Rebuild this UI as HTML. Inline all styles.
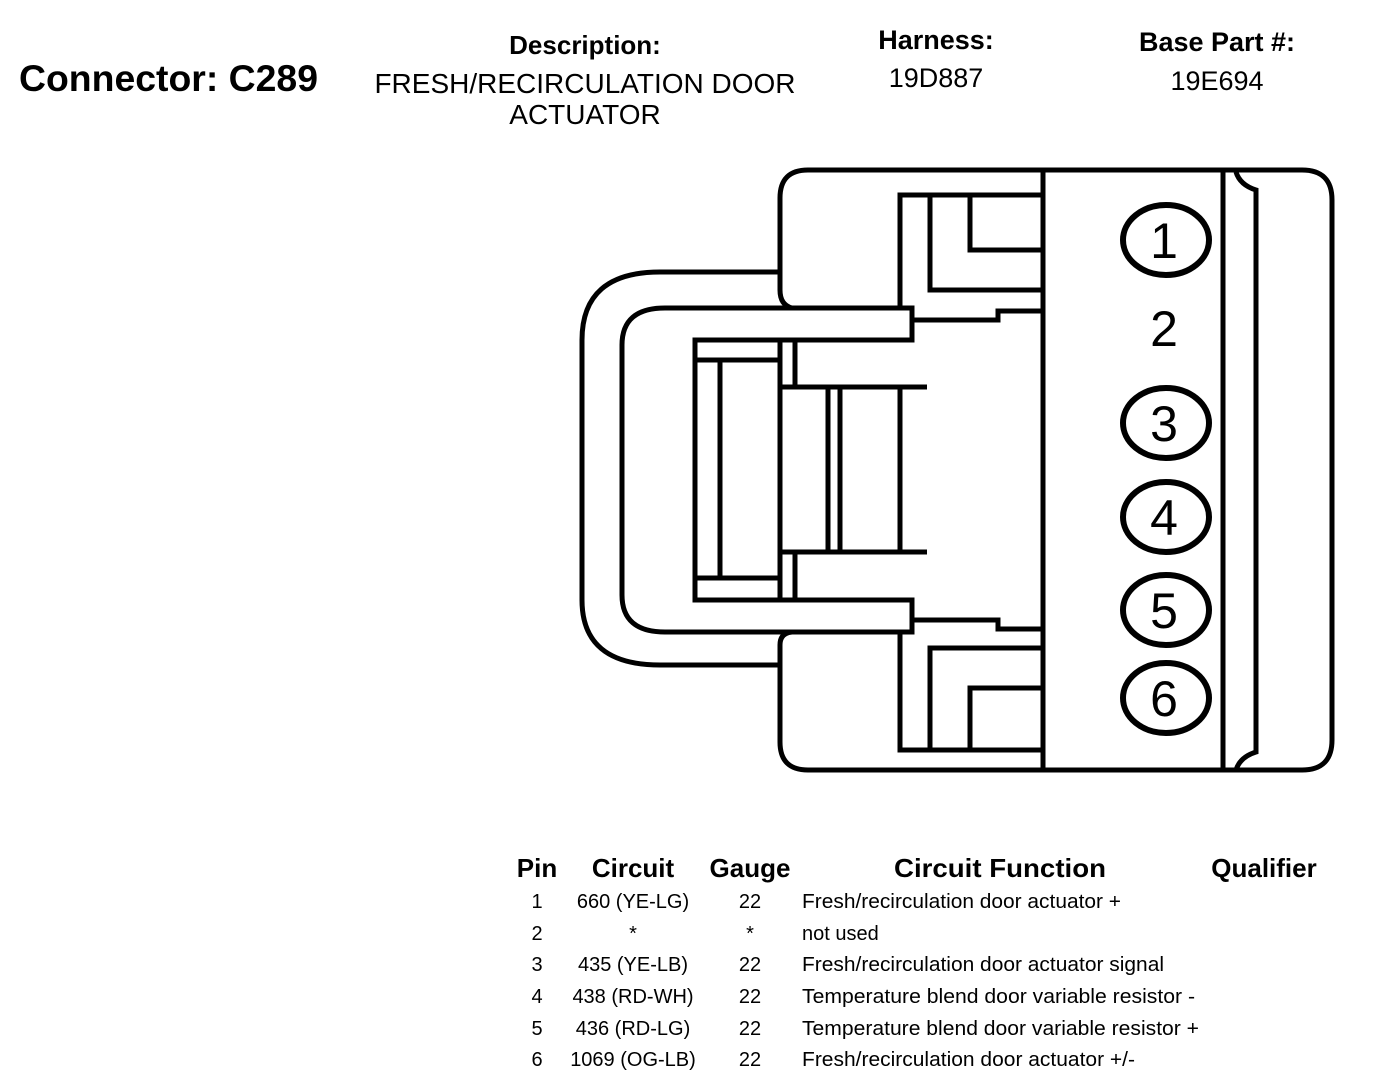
<!DOCTYPE html>
<html><head><meta charset="utf-8"><style>
html,body{margin:0;padding:0;background:#fff;}
svg{display:block;}
text{font-family:"Liberation Sans",Arial,sans-serif;fill:#000;}
</style></head><body>
<svg width="1376" height="1088" viewBox="0 0 1376 1088" xmlns="http://www.w3.org/2000/svg">
<g font-weight="bold">
<text x="19" y="91" font-size="37" textLength="299" lengthAdjust="spacingAndGlyphs">Connector: C289</text>
<text x="585" y="54" font-size="26" text-anchor="middle">Description:</text>
<text x="936" y="49" font-size="27" text-anchor="middle">Harness:</text>
<text x="1217" y="51" font-size="27" text-anchor="middle">Base Part #:</text>
</g>
<text x="585" y="93" font-size="28" text-anchor="middle">FRESH/RECIRCULATION DOOR</text>
<text x="585" y="124" font-size="28" text-anchor="middle">ACTUATOR</text>
<text x="936" y="87" font-size="27" text-anchor="middle">19D887</text>
<text x="1217" y="90" font-size="27" text-anchor="middle">19E694</text>

<g fill="none" stroke="#000" stroke-width="5">
<path d="M792 308 Q780 305 780 290 V198 Q780 170 808 170 H1302 Q1332 170 1332 200 V740 Q1332 770 1302 770 H808 Q780 770 780 742 V645 Q780 633 792 632"/>
<line x1="1043" y1="170" x2="1043" y2="770"/>
<line x1="1223" y1="170" x2="1223" y2="770"/>
<path d="M1236 172 Q1240 185 1256 190 V752 Q1240 757 1236 770"/>
<path d="M780 272 H660 Q582 272 582 340 V600 Q582 665 660 665 H780"/>
<path d="M912 308 H665 Q622 308 622 345 V595 Q622 632 665 632 H912 V600 H695 V340 H912 Z"/>
<line x1="695" y1="360" x2="780" y2="360"/>
<line x1="695" y1="578" x2="780" y2="578"/>
<line x1="720" y1="360" x2="720" y2="578"/>
<line x1="780" y1="340" x2="780" y2="600"/>
<line x1="795" y1="340" x2="795" y2="387"/>
<line x1="795" y1="552" x2="795" y2="600"/>
<line x1="780" y1="387" x2="927" y2="387"/>
<line x1="780" y1="552" x2="927" y2="552"/>
<line x1="828" y1="387" x2="828" y2="552"/>
<line x1="840" y1="387" x2="840" y2="552"/>
<line x1="900" y1="387" x2="900" y2="552"/>
<path d="M912 320 H998 V311 H1043"/>
<path d="M912 620 H998 V629 H1043"/>
<path d="M900 308 V195 H1043"/>
<path d="M930 195 V290 H1043"/>
<path d="M1043 250 H970 V195"/>
<path d="M900 632 V750 H1043"/>
<path d="M930 750 V648 H1043"/>
<path d="M1043 688 H970 V750"/>
</g>
<g fill="none" stroke="#000" stroke-width="6">
<ellipse cx="1166" cy="240" rx="43" ry="35"/>
<ellipse cx="1166" cy="423" rx="43" ry="35"/>
<ellipse cx="1166" cy="517" rx="43" ry="35"/>
<ellipse cx="1166" cy="610" rx="43" ry="35"/>
<ellipse cx="1166" cy="698" rx="43" ry="35"/>
</g>
<g font-size="50" text-anchor="middle">
<text x="1164" y="258">1</text>
<text x="1164" y="346">2</text>
<text x="1164" y="441">3</text>
<text x="1164" y="535">4</text>
<text x="1164" y="628">5</text>
<text x="1164" y="716">6</text>
</g>

<g font-weight="bold" font-size="26">
<text x="537" y="877" text-anchor="middle">Pin</text>
<text x="633" y="877" text-anchor="middle">Circuit</text>
<text x="750" y="877" text-anchor="middle">Gauge</text>
<text x="1000" y="877" text-anchor="middle" textLength="212" lengthAdjust="spacingAndGlyphs">Circuit Function</text>
<text x="1264" y="877" text-anchor="middle">Qualifier</text>
</g>
<g font-size="20">
<text x="537" y="908" text-anchor="middle">1</text><text x="633" y="908" text-anchor="middle">660 (YE-LG)</text><text x="750" y="908" text-anchor="middle">22</text><text x="802" y="908" textLength="319" lengthAdjust="spacingAndGlyphs">Fresh/recirculation door actuator +</text>
<text x="537" y="940" text-anchor="middle">2</text><text x="633" y="940" text-anchor="middle">*</text><text x="750" y="940" text-anchor="middle">*</text><text x="802" y="940">not used</text>
<text x="537" y="971" text-anchor="middle">3</text><text x="633" y="971" text-anchor="middle">435 (YE-LB)</text><text x="750" y="971" text-anchor="middle">22</text><text x="802" y="971" textLength="362" lengthAdjust="spacingAndGlyphs">Fresh/recirculation door actuator signal</text>
<text x="537" y="1003" text-anchor="middle">4</text><text x="633" y="1003" text-anchor="middle">438 (RD-WH)</text><text x="750" y="1003" text-anchor="middle">22</text><text x="802" y="1003" textLength="393" lengthAdjust="spacingAndGlyphs">Temperature blend door variable resistor -</text>
<text x="537" y="1035" text-anchor="middle">5</text><text x="633" y="1035" text-anchor="middle">436 (RD-LG)</text><text x="750" y="1035" text-anchor="middle">22</text><text x="802" y="1035" textLength="397" lengthAdjust="spacingAndGlyphs">Temperature blend door variable resistor +</text>
<text x="537" y="1066" text-anchor="middle">6</text><text x="633" y="1066" text-anchor="middle">1069 (OG-LB)</text><text x="750" y="1066" text-anchor="middle">22</text><text x="802" y="1066" textLength="333" lengthAdjust="spacingAndGlyphs">Fresh/recirculation door actuator +/-</text>
</g>
</svg>
</body></html>
